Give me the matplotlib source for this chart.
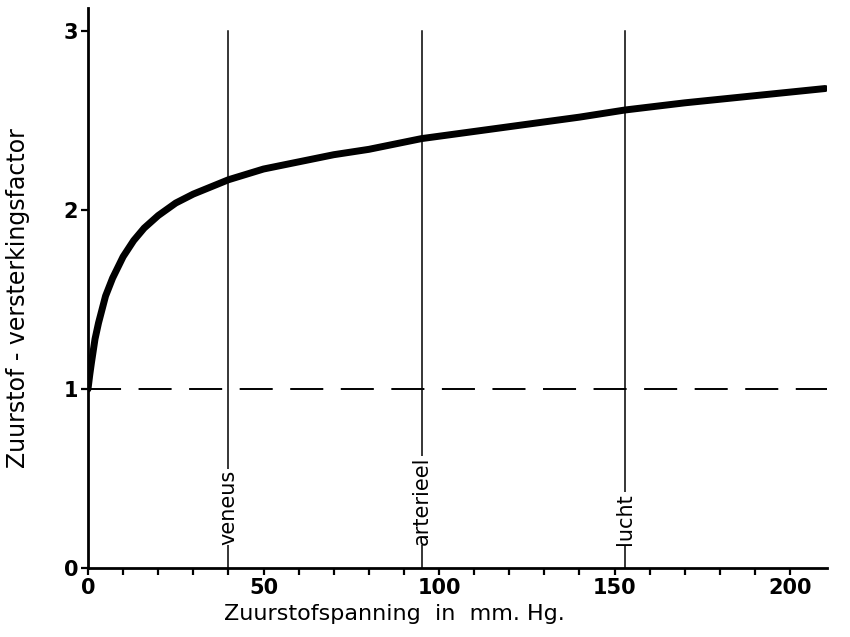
import numpy as np
import matplotlib.pyplot as plt

# oxygen tension (mm Hg) and amplification factor
spanning = [0, 0.5, 1, 2, 3, 5, 7, 10, 13, 16, 20, 25, 30, 35, 40, 50, 60, 70,
            80, 95, 110, 125, 140, 153, 170, 185, 200, 210]
factor = [1.0, 1.08, 1.15, 1.28, 1.37, 1.52, 1.62, 1.74, 1.83, 1.90, 1.97, 2.04,
          2.09, 2.13, 2.17, 2.23, 2.27, 2.31, 2.34, 2.40, 2.44, 2.48, 2.52, 2.56,
          2.60, 2.63, 2.66, 2.68]

markers_x = [40, 95, 153]
markers_lbl = ["veneus", "arterieel", "lucht"]

plt.rcParams['font.family'] = ['DejaVu Sans']

fig = plt.figure(figsize=(8.5, 6.37), dpi=100)
ax = fig.add_axes([88 / 850, 1 - 568 / 637, (827 - 88) / 850, 560 / 637])

ax.plot(spanning, factor, color='black', linewidth=5, solid_capstyle='round', zorder=3)
ax.plot([0, 210.5], [1, 1], color='black', linewidth=1.4,
        dashes=(17, 9), zorder=2)

for xv, lbl in zip(markers_x, markers_lbl):
    ax.plot([xv, xv], [0, 3.0], color='black', linewidth=1.1, zorder=1)
    ax.text(xv, 0.13, lbl, rotation=90, ha='center', va='bottom', fontsize=15,
            bbox=dict(facecolor='white', edgecolor='none', pad=0.5), zorder=4)

ax.set_xlim(0, 210.5)
ax.set_ylim(0, 3.13)
ax.spines['top'].set_visible(False)
ax.spines['right'].set_visible(False)
ax.spines['left'].set_linewidth(2)
ax.spines['bottom'].set_linewidth(2)

ax.set_xticks(np.arange(0, 201, 50))
ax.set_xticks(np.arange(0, 201, 10), minor=True)
ax.set_yticks([0, 1, 2, 3])
ax.tick_params(axis='both', which='both', length=5, width=1.6, labelsize=15, pad=2)
for t in ax.get_xticklabels() + ax.get_yticklabels():
    t.set_fontweight('bold')

fig.text(394 / 850, 1 - 614 / 637, "Zuurstofspanning  in  mm. Hg.", ha='center',
         va='center', fontsize=16)
fig.text(18 / 850, 1 - 298 / 637, "Zuurstof - versterkingsfactor", rotation=90,
         ha='center', va='center', fontsize=17)

fig.savefig("out.png", dpi=100)
